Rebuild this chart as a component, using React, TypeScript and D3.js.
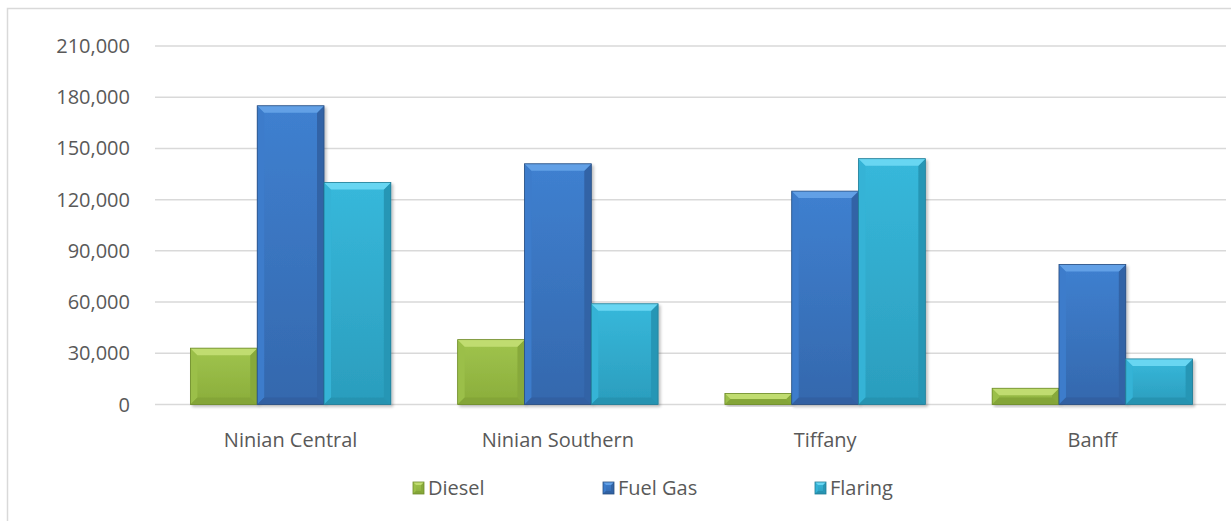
import React from "react";
import * as d3 from "d3";

const categories = ["Ninian Central", "Ninian Southern", "Tiffany", "Banff"];
const seriesNames = ["Diesel", "Fuel Gas", "Flaring"];
const diesel = [33000, 38000, 6500, 9500];
const fuelGas = [175000, 141000, 125000, 82000];
const flaring = [130000, 59000, 144000, 26700];
const yTicks = [0, 30000, 60000, 90000, 120000, 150000, 180000, 210000];

const W = 1231;
const H = 521;
const plot = { left: 157, right: 1226, top: 46, bottom: 404.5 };

const palettes = [
  { faceTop: "#a0c44d", faceBot: "#8aad3b", top: "#c0dc70", left: "#9bbf48", right: "#87a93a", bottom: "#84a537", stroke: "#6f8c2b" },
  { faceTop: "#3f80d0", faceBot: "#3468ad", top: "#62a0e6", left: "#3c7ccb", right: "#3264a6", bottom: "#3061a2", stroke: "#2a4f80" },
  { faceTop: "#37b8db", faceBot: "#2b9dbd", top: "#68d6f2", left: "#34b3d6", right: "#2896b5", bottom: "#2793b1", stroke: "#227d96" },
];

function BevelBar({ x, y, w, h, p, bevel, id }: any) {
  const b = Math.min(bevel, h / 2, w / 2);
  return (
    <g>
      <rect x={x} y={y} width={w} height={h} fill={`url(#${id})`} />
      <polygon points={`${x},${y} ${x + b},${y + b} ${x + b},${y + h - b} ${x},${y + h}`} fill={p.left} />
      <polygon points={`${x + w},${y} ${x + w},${y + h} ${x + w - b},${y + h - b} ${x + w - b},${y + b}`} fill={p.right} />
      <polygon points={`${x},${y + h} ${x + b},${y + h - b} ${x + w - b},${y + h - b} ${x + w},${y + h}`} fill={p.bottom} />
      <polygon points={`${x},${y} ${x + w},${y} ${x + w - b},${y + b} ${x + b},${y + b}`} fill={p.top} />
      <rect x={x} y={y} width={w} height={h} fill="none" stroke={p.stroke} strokeWidth={0.8} />
    </g>
  );
}

export default function App() {
  const values = [diesel, fuelGas, flaring];
  const x0 = d3.scaleBand<string>().domain(categories).range([plot.left, plot.right]).paddingInner(0).paddingOuter(0);
  const bw0 = x0.bandwidth();
  const x1 = d3.scaleBand<string>().domain(seriesNames).range([bw0 * 0.125, bw0 * 0.875]).padding(0);
  const y = d3.scaleLinear().domain([0, 210000]).range([plot.bottom, plot.top]);
  const fmt = d3.format(",");
  const font = "'Open Sans', sans-serif";
  const textColor = "#595959";
  const legendX = [413, 603, 815];
  const legendY = 488;

  return (
    <div style={{ position: "absolute", left: 0, top: 0 }}>
      <svg width={W} height={H} style={{ display: "block" }}>
        <defs>
          {palettes.map((p, i) => (
            <linearGradient key={i} id={`face${i}`} x1="0" y1="0" x2="0" y2="1">
              <stop offset="0%" stopColor={p.faceTop} />
              <stop offset="100%" stopColor={p.faceBot} />
            </linearGradient>
          ))}
          <filter id="shadow" x="-10%" y="-10%" width="130%" height="130%">
            <feGaussianBlur in="SourceAlpha" stdDeviation="1.5" />
            <feOffset dx="1.5" dy="1.5" result="ob" />
            <feComponentTransfer>
              <feFuncA type="linear" slope="0.25" />
            </feComponentTransfer>
            <feMerge>
              <feMergeNode />
              <feMergeNode in="SourceGraphic" />
            </feMerge>
          </filter>
        </defs>
        <rect x={0} y={0} width={W} height={H} fill="#ffffff" />
        <rect x={7.5} y={8.5} width={W + 20} height={H + 20} fill="none" stroke="#d9d9d9" strokeWidth={1.5} />

        {yTicks.map((t) => (
          <g key={t}>
            <line x1={plot.left - 2} x2={plot.right} y1={y(t)} y2={y(t)} stroke="#d9d9d9" strokeWidth={1.5} />
            <text x={130} y={y(t)} dy="0.35em" textAnchor="end" fontFamily={font} fontSize={20} fill={textColor}>
              {fmt(t)}
            </text>
          </g>
        ))}

        {categories.map((c, ci) => (
          <g key={c} transform={`translate(${x0(c)},0)`}>
            {seriesNames.map((s, si) => {
              const v = values[si][ci];
              const yy = y(v);
              return (
                <g key={s} filter="url(#shadow)">
                  <BevelBar x={x1(s)} y={yy} w={x1.bandwidth()} h={plot.bottom - yy} p={palettes[si]} bevel={7} id={`face${si}`} />
                </g>
              );
            })}
            <text x={bw0 / 2} y={440} dy="0.35em" textAnchor="middle" fontFamily={font} fontSize={20} fill={textColor}>
              {c}
            </text>
          </g>
        ))}

        {seriesNames.map((s, i) => (
          <g key={s} transform={`translate(${legendX[i]},${legendY})`}>
            <BevelBar x={0} y={-6} w={11} h={12} p={palettes[i]} bevel={3} id={`face${i}`} />
            <text x={15} y={0} dy="0.35em" fontFamily={font} fontSize={20} fill={textColor}>
              {s}
            </text>
          </g>
        ))}
      </svg>
    </div>
  );
}
